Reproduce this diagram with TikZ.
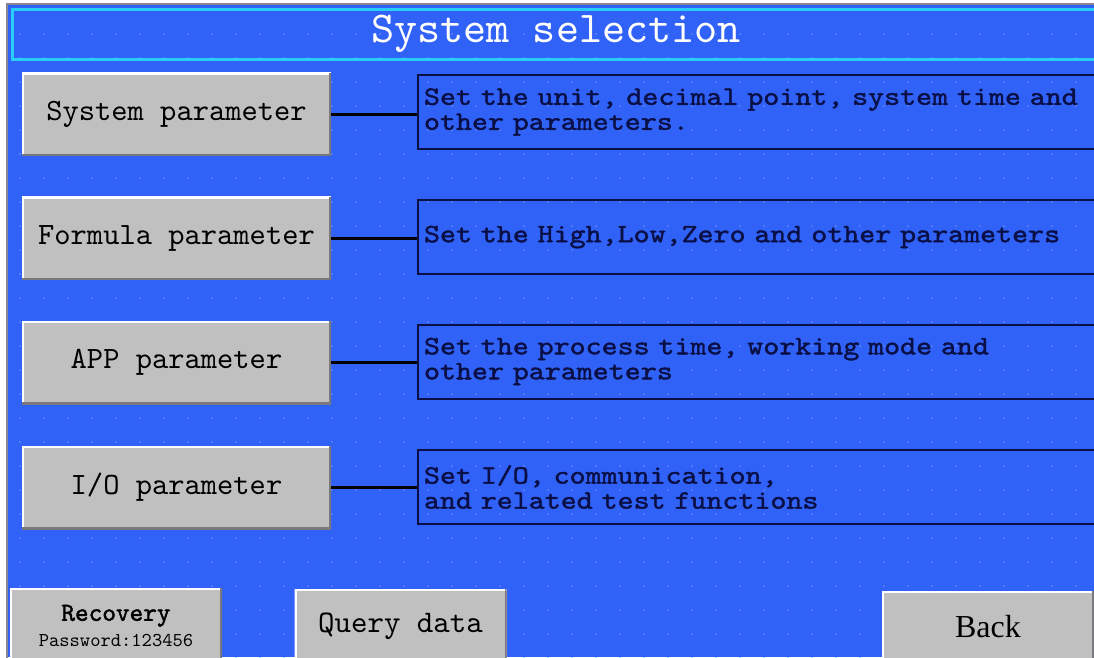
\documentclass[tikz,border=0pt]{standalone}
\usepackage{fontspec}
\setmainfont{Liberation Serif}
\newfontfamily\monoface{lmmono10-regular.otf}[WordSpace={1,0,0}]
\newfontfamily\monobold{lmmono10-regular.otf}[FakeBold=1.6,WordSpace={1,0,0}]
\newfontfamily\descface{lmmono10-regular.otf}[FakeBold=1.6,FakeStretch=1.15,WordSpace={1,0,0}]
\definecolor{panel}{RGB}{48,98,248}
\definecolor{panelDot}{RGB}{110,145,252}
\definecolor{frameCyan}{RGB}{40,205,250}
\definecolor{frameGray}{RGB}{135,135,145}
\definecolor{btnFace}{RGB}{192,192,192}
\definecolor{btnShade}{RGB}{120,120,125}
\definecolor{navy}{RGB}{10,15,70}
\begin{document}
\begin{tikzpicture}[x=1pt,y=-1pt,
  bevel/.style={path picture={
    \draw[white,line width=4pt] (path picture bounding box.south west) -- (path picture bounding box.north west) -- (path picture bounding box.north east);
    \draw[btnShade,line width=4pt] (path picture bounding box.north east) -- (path picture bounding box.south east) -- (path picture bounding box.south west);}},
  mainbtn/.style={fill=btnFace,bevel,minimum width=309pt,minimum height=83pt,inner sep=0pt,
    font=\monoface\fontsize{31pt}{33pt}\selectfont,text=black},
  smallbtn/.style={fill=btnFace,bevel,minimum width=212pt,inner sep=0pt,text=black},
  desc/.style={draw=navy,line width=2pt,minimum width=690pt,minimum height=74pt,
    text width=678pt,inner xsep=6pt,align=left,anchor=west,
    font=\descface\fontsize{26.5pt}{25pt}\selectfont,text=navy},
  conn/.style={line width=3pt,black}]
\useasboundingbox (0,0) rectangle (1094,657);
% screen background and outer frame
\fill[white] (0,0) rectangle (1094,657);
\fill[panel] (8,5) rectangle (1094,657);
\draw[frameGray,line width=2pt] (7,660) -- (7,4) -- (1100,4);
% dotted grid of the panel
\foreach \i in {0,...,45}{
  \foreach \j in {0,...,27}{
    \fill[panelDot] (20+24*\i,10+24*\j) circle (0.9pt);
  }
}
% title bar
\node[draw=frameCyan,line width=3pt,minimum width=1088pt,minimum height=50pt,
  font=\monoface\fontsize{44pt}{46pt}\selectfont,text=white] (title) at (556,34) {System selection};
% parameter buttons
\node[mainbtn] (b1) at (176.5,114) {System parameter};
\node[mainbtn] (b2) at (176.5,238) {Formula parameter};
\node[mainbtn] (b3) at (176.5,362.5) {APP parameter};
\node[mainbtn] (b4) at (176.5,487.5) {I/O parameter};
% description boxes
\node[desc] (d1) at (417,112) {Set the unit, decimal point, system time and\\other parameters.};
\node[desc] (d2) at (417,237) {Set the High,Low,Zero and other parameters};
\node[desc] (d3) at (417,361.5) {Set the process time, working mode and\\other parameters};
\node[desc] (d4) at (417,487) {Set I/O, communication,\\and related test functions};
% connectors
\draw[conn] (b1.east) -- (b1.east -| d1.west);
\draw[conn] (b2.east) -- (b2.east -| d2.west);
\draw[conn] (b3.east) -- (b3.east -| d3.west);
\draw[conn] (b4.east) -- (b4.east -| d4.west);
% bottom buttons
\node[smallbtn,minimum height=76pt,align=center] (rec) at (116,626)
  {{\monobold\fontsize{26pt}{28pt}\selectfont Recovery}\\[7pt]{\monoface\fontsize{19.6pt}{22pt}\selectfont Password:123456}};
\node[smallbtn,minimum height=74pt,font=\monoface\fontsize{31.4pt}{33pt}\selectfont] (query) at (400.5,626) {Query data};
\node[smallbtn,minimum height=72pt,font=\rmfamily\fontsize{32pt}{34pt}\selectfont] (back) at (988,627) {Back};
\end{tikzpicture}
\end{document}
